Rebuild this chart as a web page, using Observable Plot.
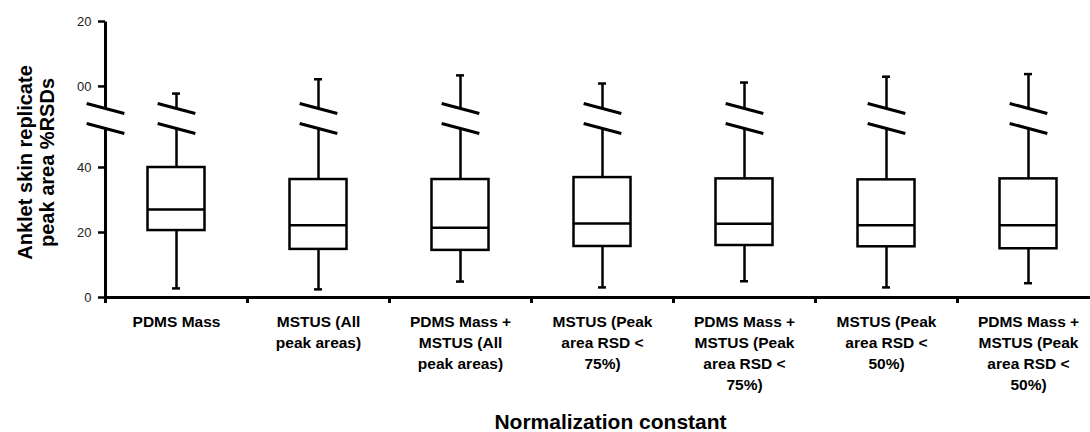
<!DOCTYPE html>
<html>
<head>
<meta charset="utf-8">
<script src="https://cdn.jsdelivr.net/npm/d3@7"></script>
<script src="https://cdn.jsdelivr.net/npm/@observablehq/plot@0.6"></script>
<style>
  html, body { margin: 0; padding: 0; background: #fff; overflow: hidden; }
</style>
</head>
<body>
<div id="chart"></div>
<script>
// Normalization methods compared (one box per method)
const categories = [
  "PDMS Mass",
  "MSTUS (All peak areas)",
  "PDMS Mass + MSTUS (All peak areas)",
  "MSTUS (Peak area RSD < 75%)",
  "PDMS Mass + MSTUS (Peak area RSD < 75%)",
  "MSTUS (Peak area RSD < 50%)",
  "PDMS Mass + MSTUS (Peak area RSD < 50%)"
];
const categoryLabels = [
  "PDMS Mass",
  "MSTUS (All\npeak areas)",
  "PDMS Mass +\nMSTUS (All\npeak areas)",
  "MSTUS (Peak\narea RSD <\n75%)",
  "PDMS Mass +\nMSTUS (Peak\narea RSD <\n75%)",
  "MSTUS (Peak\narea RSD <\n50%)",
  "PDMS Mass +\nMSTUS (Peak\narea RSD <\n50%)"
];

// Box-plot statistics of the replicate %RSDs
const whiskerLow  = [2.8, 2.5, 4.9, 3.1, 5.0, 3.1, 4.4];
const quartile1   = [20.6, 14.8, 14.5, 15.7, 16.0, 15.6, 15.0];
const medians     = [27.1, 22.2, 21.5, 22.8, 22.7, 22.2, 22.2];
const quartile3   = [40.0, 36.3, 36.3, 36.9, 36.5, 36.2, 36.5];
const whiskerHigh = [97.8, 102.2, 103.4, 100.9, 101.2, 103.0, 103.8];

// Broken y axis: the gap runs between these two values
const axisBreak = [52, 93.2];
const yTickValues = [0, 20, 40, 100, 120];
const yTickLabels = ["0", "20", "40", "00", "20"];

const yTitle = "Anklet skin replicate\npeak area %RSDs";
const xTitle = "Normalization constant";

const rows = categories.map((c, i) => ({
  category: c,
  label: categoryLabels[i],
  lo: whiskerLow[i],
  q1: quartile1[i],
  med: medians[i],
  q3: quartile3[i],
  hi: whiskerHigh[i]
}));
const breakRows = categories.flatMap(c => axisBreak.map(v => ({category: c, value: v})));
const yBottom = yTickValues[0], yTop = yTickValues[yTickValues.length - 1];
const tickLabel = new Map(yTickValues.map((v, i) => [v, yTickLabels[i]]));

const W = 1090, H = 432;
const marginLeft = 105, marginRight = -9;
const bw = (W - marginLeft - marginRight) / categories.length;
const boxInset = (bw - 57) / 2;
const capInset = (bw - 8) / 2;
const font = "Arial, 'Liberation Sans', sans-serif";
const X = d => d.category;
const line = {stroke: "black", strokeWidth: 2.5};
const slash = {length: 39, rotate: 105, anchor: "middle", r: 0, stroke: "black", strokeWidth: 3, strokeLinecap: "butt"};

// piecewise y scale that squeezes the 52–93 gap
const yOptions = {type: "linear", domain: [yBottom, axisBreak[0], axisBreak[1], yTop], range: [297, 128, 108, 21]};
const yScale = Plot.scale({y: yOptions});
const lowerAxisLength = yScale.apply(yBottom) - yScale.apply(axisBreak[0]);
const upperAxisLength = yScale.apply(axisBreak[1]) - yScale.apply(yTop);
const axisStroke = {frameAnchor: "left", anchor: "start", rotate: 0, r: 0, stroke: "black", strokeWidth: 3, strokeLinecap: "butt"};

const chart = Plot.plot({
  width: W,
  height: H,
  marginLeft,
  marginRight,
  marginTop: 21,
  marginBottom: 135,
  style: {fontFamily: font, background: "white", color: "black"},
  x: {type: "band", domain: categories, padding: 0, axis: null},
  y: {...yOptions, axis: null},
  marks: [
    Plot.axisY({
      ticks: yTickValues, tickFormat: d => tickLabel.get(d), tickSize: 7, tickPadding: 7,
      strokeWidth: 2.5, fontSize: 13, label: null, fill: "#222"
    }),
    // x axis line with ticks at the category boundaries
    Plot.ruleY([0], {stroke: "black", strokeWidth: 3}),
    Plot.axisX({tickSize: 6, tickFormat: () => "", dx: -bw / 2, strokeWidth: 3, label: null}),
    // whiskers
    Plot.ruleX(rows, {x: X, y1: "lo", y2: "q1", ...line}),
    Plot.ruleX(rows, {x: X, y1: "q3", y2: () => axisBreak[0], ...line}),
    Plot.ruleX(rows, {x: X, y1: () => axisBreak[1], y2: "hi", ...line}),
    Plot.tickY(rows, {x: X, y: "lo", insetLeft: capInset, insetRight: capInset, ...line}),
    Plot.tickY(rows, {x: X, y: "hi", insetLeft: capInset, insetRight: capInset, ...line}),
    // boxes and medians
    Plot.barY(rows, {x: X, y1: "q1", y2: "q3", fill: "white", insetLeft: boxInset, insetRight: boxInset, ...line}),
    Plot.tickY(rows, {x: X, y: "med", insetLeft: boxInset, insetRight: boxInset, ...line}),
    // y axis line in two pieces, split at the break
    Plot.vector([yBottom], {y: d => d, length: lowerAxisLength, ...axisStroke}),
    Plot.vector([axisBreak[1]], {y: d => d, length: upperAxisLength, ...axisStroke}),
    // break marks on each whisker and on the y axis
    Plot.vector(breakRows, {x: "category", y: "value", ...slash}),
    Plot.vector(axisBreak, {y: d => d, frameAnchor: "left", ...slash}),
    // category labels
    Plot.text(rows, {
      x: X, text: "label", frameAnchor: "bottom", dy: 15, lineAnchor: "top", textAnchor: "middle",
      lineHeight: 1.35, fontSize: 15.5, fontWeight: "bold", fill: "black"
    }),
    // axis titles
    Plot.text([xTitle], {
      frameAnchor: "bottom", dy: 125, dx: 8, lineAnchor: "middle", textAnchor: "middle",
      fontSize: 21, fontWeight: "bold", fill: "black"
    }),
    Plot.text([yTitle], {
      frameAnchor: "left", dx: -70, dy: 3, rotate: -90, lineAnchor: "middle", textAnchor: "middle",
      lineHeight: 1.1, fontSize: 20, fontWeight: "bold", fill: "black"
    })
  ]
});
document.getElementById("chart").appendChild(chart);
</script>
</body>
</html>
